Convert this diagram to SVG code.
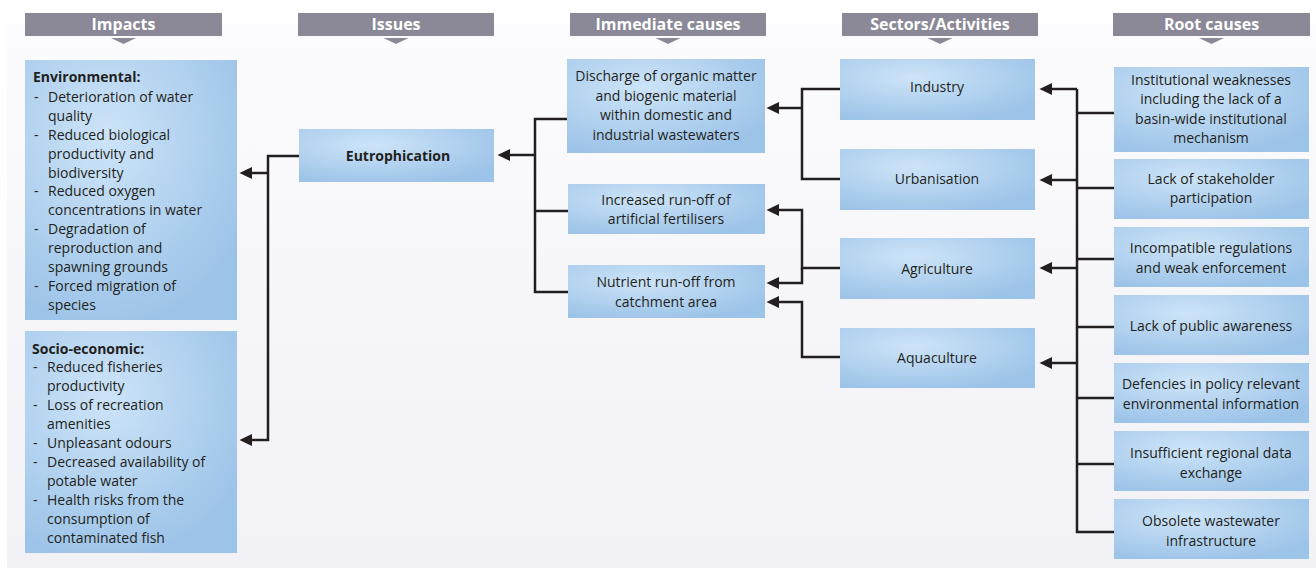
<svg xmlns="http://www.w3.org/2000/svg" width="1316" height="569" viewBox="0 0 1316 569">
<defs>
<linearGradient id="bg" x1="0" y1="0" x2="0" y2="1">
<stop offset="0" stop-color="#fcfcfe"/>
<stop offset="1" stop-color="#f1f1f6"/>
</linearGradient>
<radialGradient id="boxg" cx="0.38" cy="0.3" r="0.75" fx="0.38" fy="0.3">
<stop offset="0" stop-color="#cde4f8"/>
<stop offset="1" stop-color="#9cc3e8"/>
</radialGradient>
<marker id="arr" markerUnits="userSpaceOnUse" markerWidth="13" markerHeight="13" refX="6" refY="6.5" orient="auto" viewBox="0 0 13 13">
<path d="M0,0.5 L12.5,6.5 L0,12.5 Z" fill="#231f20"/>
</marker>
<style>
.hdr{fill:#8b8997}
.hdrt{font-family:"Open Sans",sans-serif;font-size:16px;font-weight:bold;fill:#ffffff;text-anchor:middle}
.box{fill:url(#boxg)}
.t{font-family:"Open Sans",sans-serif;font-size:14px;fill:#231f20}
.c{text-anchor:middle}
.b{font-weight:bold}
.ln{fill:none;stroke:#231f20;stroke-width:2.5}
.ar{fill:none;stroke:#231f20;stroke-width:2.5;marker-end:url(#arr)}
</style>
</defs>
<rect x="0" y="0" width="1316" height="569" fill="#ffffff"/>
<rect x="7" y="24" width="1309" height="544" fill="url(#bg)"/>

<g id="headers">
<rect class="hdr" x="25" y="13" width="197" height="23"/><text class="hdrt" x="123.5" y="30">Impacts</text><path class="hdr" d="M111,38 H136 L123.5,44 Z"/>
<rect class="hdr" x="298" y="13" width="196" height="23"/><text class="hdrt" x="396" y="30">Issues</text><path class="hdr" d="M383.5,38 H408.5 L396,44 Z"/>
<rect class="hdr" x="570" y="13" width="196" height="23"/><text class="hdrt" x="668" y="30">Immediate causes</text><path class="hdr" d="M655.5,38 H680.5 L668,44 Z"/>
<rect class="hdr" x="842" y="13" width="196" height="23"/><text class="hdrt" x="940" y="30">Sectors/Activities</text><path class="hdr" d="M927.5,38 H952.5 L940,44 Z"/>
<rect class="hdr" x="1113" y="13" width="197" height="23"/><text class="hdrt" x="1211.5" y="30">Root causes</text><path class="hdr" d="M1199,38 H1224 L1211.5,44 Z"/>
</g>

<g id="connectors">
<path class="ar" d="M299,156 H268 V440 H246"/>
<path class="ar" d="M268,173 H246"/>
<path class="ln" d="M567,119 H535 V292 H568"/>
<path class="ln" d="M535,211 H568"/>
<path class="ar" d="M535,155 H504"/>
<path class="ln" d="M840,89 H802 V179 H840"/>
<path class="ar" d="M802,108 H773"/>
<path class="ar" d="M840,268 H802 V210 H773"/>
<path class="ar" d="M802,268 V283 H773"/>
<path class="ar" d="M840,357 H802 V302 H773"/>
<path class="ln" d="M1077,89 V532 H1114"/>
<path class="ar" d="M1077,89 H1046"/>
<path class="ar" d="M1077,180 H1046"/>
<path class="ar" d="M1077,268 H1046"/>
<path class="ar" d="M1077,363 H1046"/>
<path class="ln" d="M1077,113 H1114 M1077,188 H1114 M1077,259 H1114 M1077,327 H1114 M1077,398 H1114 M1077,464 H1114"/>
</g>

<g id="env">
<rect class="box" x="25" y="60" width="212" height="260"/>
<text class="t b" x="33" y="82">Environmental:</text>
<text class="t" x="34" y="102">-</text><text class="t" x="48" y="102">Deterioration of water</text>
<text class="t" x="48" y="121">quality</text>
<text class="t" x="34" y="140">-</text><text class="t" x="48" y="140">Reduced biological</text>
<text class="t" x="48" y="159">productivity and</text>
<text class="t" x="48" y="178">biodiversity</text>
<text class="t" x="34" y="196">-</text><text class="t" x="48" y="196">Reduced oxygen</text>
<text class="t" x="48" y="215">concentrations in water</text>
<text class="t" x="34" y="234">-</text><text class="t" x="48" y="234">Degradation of</text>
<text class="t" x="48" y="253">reproduction and</text>
<text class="t" x="48" y="272">spawning grounds</text>
<text class="t" x="34" y="291">-</text><text class="t" x="48" y="291">Forced migration of</text>
<text class="t" x="48" y="310">species</text>
</g>

<g id="socio">
<rect class="box" x="25" y="331" width="212" height="222"/>
<text class="t b" x="32" y="354">Socio-economic:</text>
<text class="t" x="33" y="372">-</text><text class="t" x="47" y="372">Reduced fisheries</text>
<text class="t" x="47" y="391">productivity</text>
<text class="t" x="33" y="410">-</text><text class="t" x="47" y="410">Loss of recreation</text>
<text class="t" x="47" y="429">amenities</text>
<text class="t" x="33" y="448">-</text><text class="t" x="47" y="448">Unpleasant odours</text>
<text class="t" x="33" y="467">-</text><text class="t" x="47" y="467">Decreased availability of</text>
<text class="t" x="47" y="486">potable water</text>
<text class="t" x="33" y="505">-</text><text class="t" x="47" y="505">Health risks from the</text>
<text class="t" x="47" y="524">consumption of</text>
<text class="t" x="47" y="543">contaminated fish</text>
</g>

<g id="eutro">
<rect class="box" x="299" y="129" width="195" height="53"/>
<text class="t b c" x="398" y="161">Eutrophication</text>
</g>

<g id="discharge">
<rect class="box" x="567" y="59" width="198" height="94"/>
<text class="t c" x="666" y="81">Discharge of organic matter</text>
<text class="t c" x="666" y="101">and biogenic material</text>
<text class="t c" x="666" y="120">within domestic and</text>
<text class="t c" x="666" y="140">industrial wastewaters</text>
</g>

<g id="fertilisers">
<rect class="box" x="568" y="184" width="197" height="50"/>
<text class="t c" x="666" y="205">Increased run-off of</text>
<text class="t c" x="666" y="224">artificial fertilisers</text>
</g>

<g id="nutrient">
<rect class="box" x="568" y="265" width="197" height="53"/>
<text class="t c" x="666" y="287">Nutrient run-off from</text>
<text class="t c" x="666" y="307">catchment area</text>
</g>

<g id="industry"><rect class="box" x="840" y="59" width="195" height="61"/><text class="t c" x="937" y="92">Industry</text></g>
<g id="urbanisation"><rect class="box" x="840" y="149" width="195" height="61"/><text class="t c" x="937" y="184">Urbanisation</text></g>
<g id="agriculture"><rect class="box" x="840" y="238" width="195" height="61"/><text class="t c" x="937" y="274">Agriculture</text></g>
<g id="aquaculture"><rect class="box" x="840" y="328" width="195" height="60"/><text class="t c" x="937" y="363">Aquaculture</text></g>

<g id="root1"><rect class="box" x="1114" y="67" width="195" height="85"/>
<text class="t c" x="1211" y="85">Institutional weaknesses</text>
<text class="t c" x="1211" y="104">including the lack of a</text>
<text class="t c" x="1211" y="124">basin-wide institutional</text>
<text class="t c" x="1211" y="143">mechanism</text></g>
<g id="root2"><rect class="box" x="1114" y="159" width="195" height="60"/>
<text class="t c" x="1211" y="184">Lack of stakeholder</text>
<text class="t c" x="1211" y="203">participation</text></g>
<g id="root3"><rect class="box" x="1114" y="227" width="195" height="60"/>
<text class="t c" x="1211" y="253">Incompatible regulations</text>
<text class="t c" x="1211" y="273">and weak enforcement</text></g>
<g id="root4"><rect class="box" x="1114" y="295" width="195" height="60"/>
<text class="t c" x="1211" y="331">Lack of public awareness</text></g>
<g id="root5"><rect class="box" x="1114" y="363" width="195" height="60"/>
<text class="t c" x="1211" y="389">Defencies in policy relevant</text>
<text class="t c" x="1211" y="409">environmental information</text></g>
<g id="root6"><rect class="box" x="1114" y="431" width="195" height="60"/>
<text class="t c" x="1211" y="458">Insufficient regional data</text>
<text class="t c" x="1211" y="478">exchange</text></g>
<g id="root7"><rect class="box" x="1114" y="499" width="195" height="60"/>
<text class="t c" x="1211" y="526">Obsolete wastewater</text>
<text class="t c" x="1211" y="546">infrastructure</text></g>
</svg>
